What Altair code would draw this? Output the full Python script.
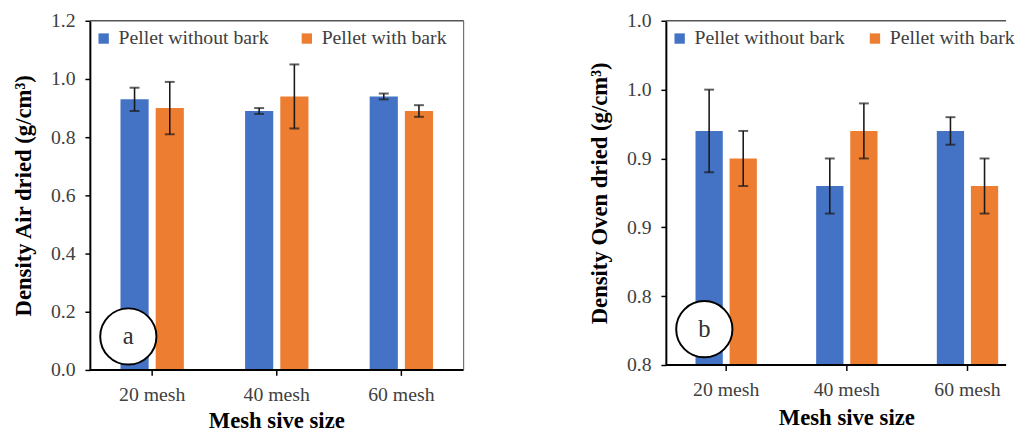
import altair as alt
import pandas as pd

FONT = "Liberation Serif"

categories = ["20 mesh", "40 mesh", "60 mesh"]
series_names = ["Pellet without bark", "Pellet with bark"]
series_colors = ["#4472C4", "#ED7D31"]
x_title = "Mesh sive size"

# Panel a: air dried density
air_without = [0.93, 0.89, 0.94]
air_without_err = [0.04, 0.01, 0.01]
air_with = [0.90, 0.94, 0.89]
air_with_err = [0.09, 0.11, 0.02]

# Panel b: oven dried density
oven_without = [0.92, 0.88, 0.92]
oven_without_err = [0.03, 0.02, 0.01]
oven_with = [0.90, 0.92, 0.88]
oven_with_err = [0.02, 0.02, 0.02]

air_y_ticks = [0.0, 0.2, 0.4, 0.6, 0.8, 1.0, 1.2]
air_y_labels = ["0.0", "0.2", "0.4", "0.6", "0.8", "1.0", "1.2"]
oven_y_ticks = [0.75, 0.80, 0.85, 0.90, 0.95, 1.00]
oven_y_labels = ["0.8", "0.8", "0.9", "0.9", "1.0", "1.0"]


def make_df(without, without_err, with_, with_err):
    rows = []
    for i, c in enumerate(categories):
        rows.append(dict(mesh=c, series=series_names[0], value=without[i],
                         lo=without[i] - without_err[i], hi=without[i] + without_err[i]))
        rows.append(dict(mesh=c, series=series_names[1], value=with_[i],
                         lo=with_[i] - with_err[i], hi=with_[i] + with_err[i]))
    return pd.DataFrame(rows)


def label_expr(ticks, labels):
    expr = "''"
    for t, l in reversed(list(zip(ticks, labels))):
        expr = f"abs(datum.value - {t}) < 0.001 ? '{l}' : ({expr})"
    return expr


def panel(df, width, xrange, height, ydomain, yticks, ylabels, ytitle, base,
          circle_y, letter, right_border, col_pad, label_dy, title_dy):
    xscale = alt.Scale(domain=categories, range=[0, xrange], paddingInner=0, paddingOuter=0)
    x = alt.X("mesh:N", scale=xscale, sort=categories, axis=None)
    xo = alt.XOffset("series:N", sort=series_names,
                     scale=alt.Scale(domain=series_names, paddingInner=0.2, paddingOuter=0.87))
    yscale = alt.Scale(domain=ydomain, zero=False, nice=False)
    y_axis = alt.Axis(values=yticks, labelExpr=label_expr(yticks, ylabels), title=ytitle,
                      grid=False, labelFont=FONT, labelFontSize=20, labelColor="#404040",
                      labelPadding=10, tickSize=5, tickColor="#000", tickWidth=1.5,
                      domainColor="#000", domainWidth=2, titleFont=FONT, titleFontSize=23,
                      titleFontWeight="bold", titleColor="#000", titlePadding=15)
    color = alt.Color("series:N", sort=series_names,
                      scale=alt.Scale(domain=series_names, range=series_colors),
                      legend=alt.Legend(orient="none", legendX=4, legendY=8,
                                        direction="horizontal", columns=2, title=None,
                                        symbolType="square", symbolSize=110,
                                        symbolStrokeWidth=0, labelFont=FONT,
                                        labelFontSize=20, labelColor="#404040",
                                        columnPadding=col_pad, labelOffset=5, padding=0))
    base_chart = alt.Chart(df)
    bars = base_chart.mark_bar().encode(
        x=x, xOffset=xo,
        y=alt.Y("value:Q", scale=yscale, axis=y_axis),
        y2=alt.datum(base),
        color=color,
    )
    rules = base_chart.mark_rule(color="#1a1a1a", strokeWidth=1.6).encode(
        x=x, xOffset=xo, y="lo:Q", y2="hi:Q")
    cap_lo = base_chart.mark_tick(color="#1a1a1a", size=10, thickness=2).encode(
        x=x, xOffset=xo, y="lo:Q")
    cap_hi = base_chart.mark_tick(color="#1a1a1a", size=10, thickness=2).encode(
        x=x, xOffset=xo, y="hi:Q")

    cats = alt.Chart(pd.DataFrame({"mesh": categories}))
    x_ticks = cats.mark_rule(color="#000", strokeWidth=1.5).encode(
        x=x, y=alt.value(height), y2=alt.value(height + 6))
    x_labels = cats.mark_text(font=FONT, fontSize=20, color="#404040").encode(
        x=x, y=alt.value(height + label_dy), text="mesh:N")

    ann = pd.DataFrame({"letter": [letter], "title": [x_title]})
    x_title_mark = alt.Chart(ann).mark_text(font=FONT, fontSize=23, fontWeight="bold",
                                            color="#000").encode(
        x=alt.value(xrange / 2), y=alt.value(height + title_dy), text="title:N")
    circle = alt.Chart(ann).mark_point(shape="circle", filled=True, fill="white",
                                       fillOpacity=1, stroke="#000", strokeWidth=2,
                                       strokeOpacity=1, size=3250).encode(
        x=alt.value(39), y=alt.datum(circle_y))
    text = alt.Chart(ann).mark_text(font=FONT, fontSize=25, color="#303030").encode(
        x=alt.value(39), y=alt.datum(circle_y), text="letter:N")
    top_line = alt.Chart(ann).mark_rule(color="#555", strokeWidth=1.5).encode(
        x=alt.value(0), x2=alt.value(width), y=alt.value(0))
    bottom_line = alt.Chart(ann).mark_rule(color="#000", strokeWidth=2).encode(
        x=alt.value(0), x2=alt.value(width), y=alt.value(height))
    layers = [bars, rules, cap_lo, cap_hi, top_line, bottom_line, x_ticks, x_labels,
              x_title_mark]
    if right_border:
        layers.append(alt.Chart(ann).mark_rule(color="#555", strokeWidth=1).encode(
            x=alt.value(width), y=alt.value(0), y2=alt.value(height)))
    layers += [circle, text]
    return alt.layer(*layers).properties(width=width, height=height)


df_air = make_df(air_without, air_without_err, air_with, air_with_err)
df_oven = make_df(oven_without, oven_without_err, oven_with, oven_with_err)

left = panel(df_air, 379, 379, 354, [0.0, 1.2], air_y_ticks, air_y_labels,
             "Density Air dried (g/cm³)", 0.0, 0.115, "a", True, 28, 25, 52)
right = panel(df_oven, 345, 367, 349, [0.75, 1.0], oven_y_ticks, oven_y_labels,
              "Density Oven dried (g/cm³)", 0.75, 0.776, "b", False, 20, 25, 54)

chart = alt.hconcat(left, right, spacing=126).resolve_scale(
    color="independent", x="independent", y="independent", xOffset="independent"
).resolve_legend(color="independent").properties(
    padding={"left": 5, "top": 0, "right": 0, "bottom": 0},
    background="white",
).configure_view(stroke=None)

chart.save("out.html", embed_options={"renderer": "svg", "actions": False})
